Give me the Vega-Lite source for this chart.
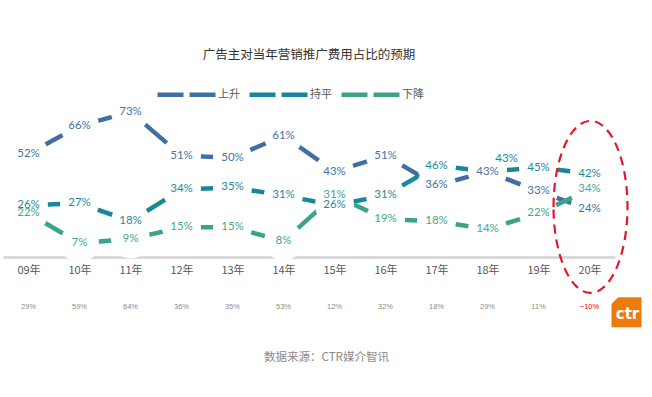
{
  "$schema": "https://vega.github.io/schema/vega-lite/v6.json",
  "width": 612,
  "height": 159,
  "autosize": {"type": "none"},
  "padding": {"left": 3, "top": 98, "right": 37, "bottom": 140},
  "background": "white",
  "title": {
    "text": "广告主对当年营销推广费用占比的预期",
    "font": "Noto Sans CJK SC",
    "fontSize": 12.5,
    "fontWeight": "normal",
    "color": "#333333",
    "anchor": "middle",
    "offset": 2
  },
  "config": {
    "view": {"stroke": null},
    "font": "Noto Sans CJK SC"
  },
  "datasets": {
    "main": [
      {"year": "09年", "series": "上升", "value": 0.52},
      {"year": "10年", "series": "上升", "value": 0.66},
      {"year": "11年", "series": "上升", "value": 0.73},
      {"year": "12年", "series": "上升", "value": 0.51},
      {"year": "13年", "series": "上升", "value": 0.50},
      {"year": "14年", "series": "上升", "value": 0.61},
      {"year": "15年", "series": "上升", "value": 0.43},
      {"year": "16年", "series": "上升", "value": 0.51},
      {"year": "17年", "series": "上升", "value": 0.36},
      {"year": "18年", "series": "上升", "value": 0.43},
      {"year": "19年", "series": "上升", "value": 0.33},
      {"year": "20年", "series": "上升", "value": 0.24},
      {"year": "09年", "series": "持平", "value": 0.26},
      {"year": "10年", "series": "持平", "value": 0.27},
      {"year": "11年", "series": "持平", "value": 0.18},
      {"year": "12年", "series": "持平", "value": 0.34},
      {"year": "13年", "series": "持平", "value": 0.35},
      {"year": "14年", "series": "持平", "value": 0.31},
      {"year": "15年", "series": "持平", "value": 0.26},
      {"year": "16年", "series": "持平", "value": 0.31},
      {"year": "17年", "series": "持平", "value": 0.46},
      {"year": "18年", "series": "持平", "value": 0.43},
      {"year": "19年", "series": "持平", "value": 0.45},
      {"year": "20年", "series": "持平", "value": 0.42},
      {"year": "09年", "series": "下降", "value": 0.22},
      {"year": "10年", "series": "下降", "value": 0.07},
      {"year": "11年", "series": "下降", "value": 0.09},
      {"year": "12年", "series": "下降", "value": 0.15},
      {"year": "13年", "series": "下降", "value": 0.15},
      {"year": "14年", "series": "下降", "value": 0.08},
      {"year": "15年", "series": "下降", "value": 0.31},
      {"year": "16年", "series": "下降", "value": 0.19},
      {"year": "17年", "series": "下降", "value": 0.18},
      {"year": "18年", "series": "下降", "value": 0.14},
      {"year": "19年", "series": "下降", "value": 0.22},
      {"year": "20年", "series": "下降", "value": 0.34}
    ],
    "net": [
      {"year": "09年", "net": 0.29},
      {"year": "10年", "net": 0.59},
      {"year": "11年", "net": 0.64},
      {"year": "12年", "net": 0.36},
      {"year": "13年", "net": 0.35},
      {"year": "14年", "net": 0.53},
      {"year": "15年", "net": 0.12},
      {"year": "16年", "net": 0.32},
      {"year": "17年", "net": 0.18},
      {"year": "18年", "net": 0.29},
      {"year": "19年", "net": 0.11},
      {"year": "20年", "net": -0.10}
    ],
    "marks": [
      {"year": "20年", "what": "focus", "level": 0.252},
      {"year": "20年", "what": "logo", "level": -0.278}
    ]
  },
  "encoding": {
    "x": {
      "field": "year",
      "type": "ordinal",
      "sort": null,
      "scale": {"type": "point", "padding": 0.5},
      "axis": {
        "title": "数据来源：CTR媒介智讯",
        "titleFont": "Noto Sans CJK SC",
        "titleFontSize": 11.5,
        "titleFontWeight": "normal",
        "titleColor": "#8a8a8a",
        "titleX": 323,
        "titleY": 100,
        "titleBaseline": "middle",
        "labelAngle": 0,
        "labelFont": "Noto Sans CJK SC",
        "labelFontSize": 11,
        "labelColor": "#595959",
        "labelPadding": 7,
        "ticks": false,
        "domainColor": "#d9d9d9",
        "domainWidth": 3,
        "grid": false
      }
    },
    "y": {
      "type": "quantitative",
      "scale": {"domain": [0, 0.8], "nice": false},
      "axis": null
    }
  },
  "layer": [
    {
      "data": {"name": "main"},
      "mark": {"type": "line", "strokeWidth": 4.5, "strokeCap": "butt"},
      "encoding": {
        "y": {"field": "value", "type": "quantitative"},
        "color": {
          "field": "series",
          "type": "nominal",
          "sort": ["上升", "持平", "下降"],
          "scale": {"domain": ["上升", "持平", "下降"], "range": ["#3f6fa3", "#19879a", "#3aa38a"]},
          "legend": {
            "title": null,
            "orient": "none",
            "direction": "horizontal",
            "legendX": 152,
            "legendY": -35,
            "symbolType": "stroke",
            "symbolSize": 3364,
            "symbolStrokeWidth": 4.5,
            "symbolDash": [26, 6],
            "labelFont": "Noto Sans CJK SC",
            "labelFontSize": 11,
            "labelColor": "#595959",
            "labelOffset": 0,
            "columnPadding": 0
          }
        }
      }
    },
    {
      "data": {"name": "main"},
      "mark": {"type": "point", "filled": true, "fill": "white", "opacity": 1, "size": 1520, "shape": "circle", "strokeWidth": 0},
      "encoding": {
        "y": {"field": "value", "type": "quantitative"}
      }
    },
    {
      "data": {"name": "main"},
      "transform": [{"filter": "!(datum.series === '持平' && datum.year === '18年')"}],
      "mark": {"type": "text", "font": "Lato", "fontSize": 11.5, "align": "center", "baseline": "middle"},
      "encoding": {
        "y": {"field": "value", "type": "quantitative"},
        "text": {"field": "value", "type": "quantitative", "format": ".0%"},
        "color": {
          "field": "series",
          "type": "nominal",
          "scale": {"domain": ["上升", "持平", "下降"], "range": ["#4673a8", "#1d8a9c", "#45a88f"]},
          "legend": null
        }
      }
    },
    {
      "data": {"name": "main"},
      "transform": [{"filter": "datum.series === '持平' && datum.year === '18年'"}],
      "mark": {"type": "text", "font": "Lato", "fontSize": 11.5, "align": "center", "baseline": "middle", "dx": 19, "dy": -13, "color": "#1d8a9c"},
      "encoding": {
        "y": {"field": "value", "type": "quantitative"},
        "text": {"field": "value", "type": "quantitative", "format": ".0%"}
      }
    },
    {
      "data": {"name": "net"},
      "mark": {"type": "text", "font": "Liberation Sans", "fontSize": 7.5, "align": "center", "baseline": "middle"},
      "encoding": {
        "y": {"datum": -0.25},
        "text": {"field": "net", "type": "quantitative", "format": ".0%"},
        "color": {"condition": {"test": "datum.net < 0", "value": "#ff0000"}, "value": "#8c8c8c"}
      }
    },
    {
      "data": {"name": "marks"},
      "transform": [{"filter": "datum.what === 'focus'"}],
      "mark": {
        "type": "point",
        "filled": false,
        "shape": "M-0.43,0A0.43,1,0,1,1,0.43,0A0.43,1,0,1,1,-0.43,0Z",
        "size": 29584,
        "stroke": "#e3162b",
        "strokeWidth": 2.2,
        "strokeDash": [9, 6],
        "opacity": 1,
        "xOffset": 1
      },
      "encoding": {
        "y": {"field": "level", "type": "quantitative"}
      }
    },
    {
      "data": {"name": "marks"},
      "transform": [{"filter": "datum.what === 'logo'"}],
      "mark": {
        "type": "point",
        "filled": true,
        "shape": "M-0.55,-1H1V1H-1V-0.55Z",
        "size": 900,
        "fill": "#ee7a0c",
        "opacity": 1,
        "xOffset": 37
      },
      "encoding": {
        "y": {"field": "level", "type": "quantitative"}
      }
    },
    {
      "data": {"name": "marks"},
      "transform": [{"filter": "datum.what === 'logo'"}],
      "mark": {
        "type": "text",
        "text": "ctr",
        "font": "DejaVu Sans",
        "fontWeight": "bold",
        "fontSize": 15,
        "color": "white",
        "align": "center",
        "baseline": "middle",
        "xOffset": 38,
        "yOffset": 2
      },
      "encoding": {
        "y": {"field": "level", "type": "quantitative"}
      }
    }
  ],
  "resolve": {"scale": {"color": "independent"}, "legend": {"color": "independent"}}
}
